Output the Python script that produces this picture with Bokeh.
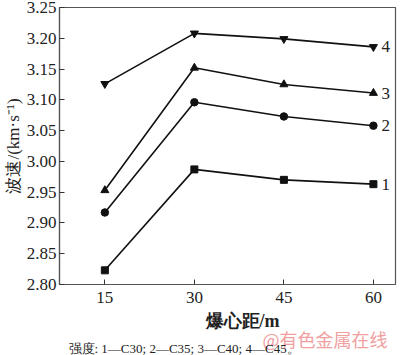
from bokeh.plotting import figure
from bokeh.models import Range1d, FixedTicker, Title, NumeralTickFormatter
from bokeh.core.properties import value
from bokeh.embed import file_html
from bokeh.resources import INLINE

distance = [15, 30, 45, 60]
c30 = [2.823, 2.987, 2.970, 2.963]
c35 = [2.917, 3.096, 3.073, 3.058]
c40 = [2.953, 3.152, 3.125, 3.111]
c45 = [3.126, 3.208, 3.199, 3.186]
series_ids = ["1", "2", "3", "4"]
y_ticks = [2.80, 2.85, 2.90, 2.95, 3.00, 3.05, 3.10, 3.15, 3.20, 3.25]
x_label = "爆心距/m"
y_label = "波速/(km·s⁻¹)"
caption = "强度: 1—C30; 2—C35; 3—C40; 4—C45。"
watermark = "@有色金属在线"

SERIF = "Liberation Serif"
TXT = "#222222"

p = figure(width=400, height=355, output_backend="svg", toolbar_location=None,
           x_range=Range1d(7.4, 63.7), y_range=Range1d(2.80, 3.25),
           min_border_left=59, min_border_right=5, min_border_top=7,
           min_border_bottom=0)
p.grid.visible = False
p.outline_line_color = "#555555"
p.outline_line_width = 1.2

for ax in (p.xaxis[0], p.yaxis[0]):
    ax.axis_line_color = "#555555"
    ax.axis_line_width = 1.2
    ax.major_tick_in = 5
    ax.major_tick_out = 0
    ax.minor_tick_line_color = None
    ax.major_tick_line_color = "#333333"
    ax.major_label_text_font = SERIF
    ax.major_label_text_font_size = "17px"
    ax.major_label_text_color = TXT
    ax.axis_label_text_font = SERIF
    ax.axis_label_text_color = TXT
    ax.axis_label_text_font_style = "normal"

p.xaxis.ticker = FixedTicker(ticks=distance)
p.yaxis.ticker = FixedTicker(ticks=y_ticks)
p.yaxis.formatter = NumeralTickFormatter(format="0.00")
p.xaxis.major_label_standoff = 7
p.yaxis.axis_label = y_label
p.yaxis.axis_label_text_font_size = "17px"
p.yaxis.axis_label_standoff = 1
p.yaxis.major_label_standoff = 3

lw = 1.6
col = "#111111"
p.line(distance, c30, line_color=col, line_width=lw)
p.scatter(distance, c30, marker="square", size=7, color=col)
p.line(distance, c35, line_color=col, line_width=lw)
p.scatter(distance, c35, marker="circle", size=7.5, color=col)
p.line(distance, c40, line_color=col, line_width=lw)
p.scatter(distance, c40, marker="triangle", size=8, color=col)
p.line(distance, c45, line_color=col, line_width=lw)
p.scatter(distance, c45, marker="inverted_triangle", size=8, color=col)

last = [c30[-1], c35[-1], c40[-1], c45[-1]]
p.text(x=[distance[-1]] * 4, y=last, text=series_ids, x_offset=8,
       text_baseline="middle", text_align="left", text_font=value(SERIF),
       text_font_size="17px", text_color=TXT)

p.add_layout(Title(text=x_label, align="left", offset=146, standoff=10,
                   vertical_align="top",
                   text_font=SERIF, text_font_size="18px", text_font_style="bold",
                   text_color=TXT), "below")
p.add_layout(Title(text=watermark, align="left", offset=203, standoff=-27,
                   text_font="Noto Sans CJK SC", text_font_size="18px",
                   text_font_style="normal", text_color="#f0a0a0"), "below")
p.add_layout(Title(text=caption, align="left", offset=9, standoff=0,
                   text_font=SERIF, text_font_size="13px", text_font_style="normal",
                   text_color=TXT), "below")

open("out.html", "w").write(file_html(p, INLINE))
